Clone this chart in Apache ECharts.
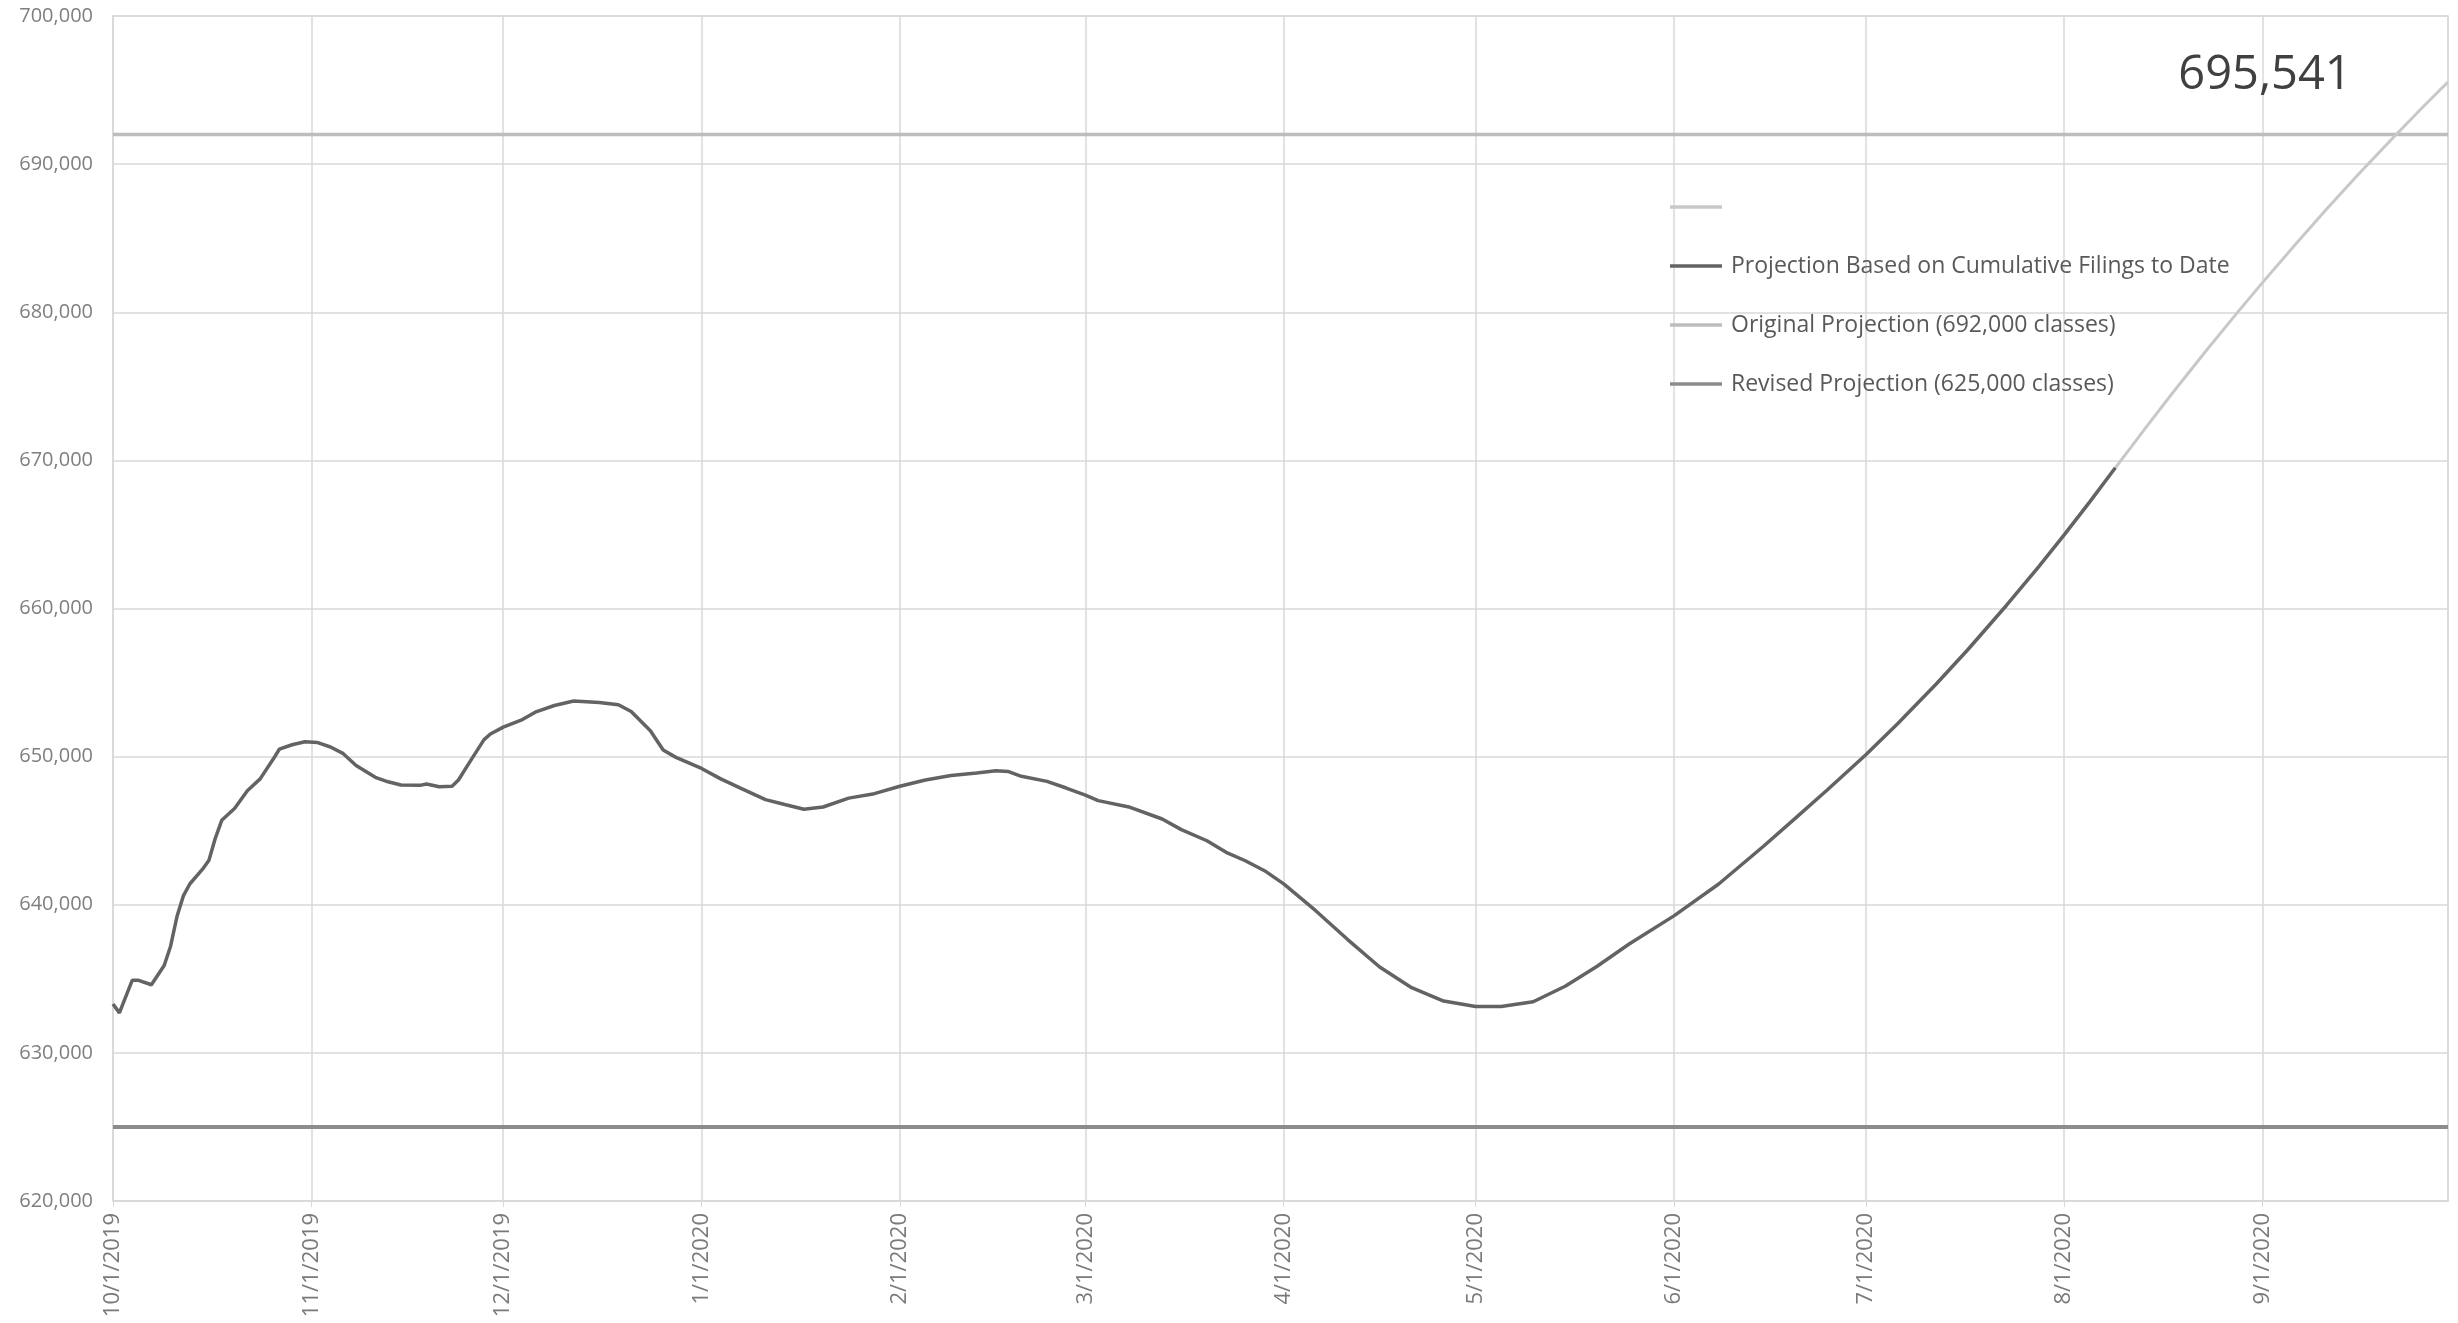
<!DOCTYPE html>
<html>
<head>
<meta charset="utf-8">
<script src="https://cdn.jsdelivr.net/npm/echarts@6/dist/echarts.min.js"></script>
<style>
html,body{margin:0;padding:0;background:#fff;}
#chart{width:2458px;height:1323px;}
</style>
</head>
<body>
<div id="chart"></div>
<script>
// ---- Data ----
const filingDates = [
'2019-10-01','2019-10-02','2019-10-04','2019-10-05','2019-10-07','2019-10-09','2019-10-10','2019-10-11','2019-10-12','2019-10-13',
'2019-10-15','2019-10-16','2019-10-17','2019-10-18','2019-10-20','2019-10-22','2019-10-24','2019-10-26','2019-10-27','2019-10-29',
'2019-10-31','2019-11-02','2019-11-04','2019-11-06','2019-11-08','2019-11-11','2019-11-13','2019-11-15','2019-11-18','2019-11-19',
'2019-11-21','2019-11-23','2019-11-24','2019-11-26','2019-11-28','2019-11-29','2019-12-01','2019-12-04','2019-12-06','2019-12-09',
'2019-12-12','2019-12-16','2019-12-19','2019-12-21','2019-12-24','2019-12-26','2019-12-28','2020-01-01','2020-01-04','2020-01-07',
'2020-01-11','2020-01-14','2020-01-17','2020-01-20','2020-01-24','2020-01-28','2020-02-01','2020-02-05','2020-02-09','2020-02-13',
'2020-02-16','2020-02-18','2020-02-20','2020-02-24','2020-02-27','2020-03-01','2020-03-03','2020-03-08','2020-03-13','2020-03-16',
'2020-03-20','2020-03-23','2020-03-26','2020-03-29','2020-04-01','2020-04-06','2020-04-11','2020-04-16','2020-04-21','2020-04-26',
'2020-05-01','2020-05-05','2020-05-10','2020-05-15','2020-05-20','2020-05-25','2020-06-01','2020-06-08','2020-06-15','2020-06-20',
'2020-06-25','2020-07-01','2020-07-06','2020-07-12','2020-07-17','2020-07-23','2020-07-28','2020-08-01','2020-08-05','2020-08-09'
];
const filingValues = [
633300,632700,634900,634900,634600,635900,637200,639200,640600,641400,
642400,643000,644500,645700,646500,647700,648500,649800,650500,650800,
651000,650950,650650,650200,649400,648600,648300,648080,648060,648150,
647970,648000,648420,649800,651150,651530,651990,652500,653000,653450,
653750,653660,653500,653050,651750,650450,649950,649200,648500,647890,
647100,646770,646450,646600,647200,647500,648000,648420,648720,648900,
649050,648990,648670,648330,647880,647400,647030,646580,645790,645070,
644320,643540,642970,642300,641410,639600,637650,635800,634400,633500,
633130,633130,633450,634500,635850,637350,639250,641400,643950,645850,
647760,650130,652230,654900,657250,660220,662815,664970,667200,669500
];
const projectionDates = ['2020-08-09','2020-08-14','2020-08-18','2020-08-23','2020-08-28','2020-09-01','2020-09-06','2020-09-11','2020-09-16','2020-09-21','2020-09-26','2020-09-30'];
const projectionValues = [669500,672350,674580,677300,679940,682000,684510,686950,689310,691600,693820,695541];

const originalTarget = 692000;
const revisedTarget = 625000;
const xStart = '2019-10-01';
const xEnd = '2020-09-30';
const yMin = 620000, yMax = 700000, yStep = 10000;

const seriesNames = [' ', 'Projection Based on Cumulative Filings to Date', 'Original Projection (692,000 classes)', 'Revised Projection (625,000 classes)'];

// ---- Build ----
const pair = (ds, vs) => ds.map((d, i) => [d, vs[i]]);
const fmtNum = v => v.toLocaleString('en-US');
const FONT = '"Open Sans", "Noto Sans", sans-serif';

const projData = pair(projectionDates, projectionValues);
projData[projData.length - 1] = {
  value: projData[projData.length - 1],
  label: {
    show: true, position: 'inside', align: 'center', verticalAlign: 'middle',
    offset: [-183, -6],
    formatter: p => fmtNum(p.value[1]),
    fontSize: 47, color: '#404040', fontFamily: FONT
  }
};

const chart = echarts.init(document.getElementById('chart'), null, {renderer: 'canvas'});
chart.setOption({
  animation: false,
  backgroundColor: '#ffffff',
  grid: {left: 113, right: 10, top: 16, bottom: 122, show: true, borderColor: '#d9d9d9', borderWidth: 1.5},
  legend: {
    orient: 'vertical', left: 1665, top: 189, itemGap: 33,
    icon: 'rect', itemWidth: 52, itemHeight: 3.5,
    data: seriesNames,
    textStyle: {fontSize: 23, color: '#595959', fontFamily: FONT, lineHeight: 26, padding: [0, 0, 0, 4]}
  },
  xAxis: {
    type: 'time', min: xStart, max: xEnd, splitNumber: 12,
    axisLine: {show: true, lineStyle: {color: '#d9d9d9', width: 1.5}},
    axisTick: {show: true, length: 6, lineStyle: {color: '#d9d9d9'}},
    splitLine: {show: true, lineStyle: {color: '#d9d9d9', width: 1.5}},
    axisLabel: {
      rotate: 90, margin: 12, fontSize: 22, color: '#7a7a7a', fontFamily: FONT,
      showMaxLabel: false,
      formatter: v => { const d = new Date(v); return d.getDate() === 1 ? (d.getMonth() + 1) + '/1/' + d.getFullYear() : ''; }
    }
  },
  yAxis: {
    type: 'value', min: yMin, max: yMax, interval: yStep,
    axisLine: {show: true, lineStyle: {color: '#d9d9d9', width: 1.5}},
    axisTick: {show: false},
    splitLine: {show: true, lineStyle: {color: '#d9d9d9', width: 1.5}},
    axisLabel: {fontSize: 20, color: '#7f7f7f', fontFamily: FONT, margin: 20, formatter: v => fmtNum(v)}
  },
  series: [
    {
      name: seriesNames[0], type: 'line', data: projData,
      symbol: 'circle', symbolSize: 0.1, showSymbol: true,
      itemStyle: {color: '#c8c8c8'}, lineStyle: {color: '#c8c8c8', width: 3}, z: 2
    },
    {
      name: seriesNames[1], type: 'line', data: pair(filingDates, filingValues),
      showSymbol: false, symbol: 'none',
      itemStyle: {color: '#636363'}, lineStyle: {color: '#636363', width: 3.5}, z: 3
    },
    {
      name: seriesNames[2], type: 'line', data: [[xStart, originalTarget], [xEnd, originalTarget]],
      showSymbol: false, symbol: 'none',
      itemStyle: {color: '#bdbdbd'}, lineStyle: {color: '#bdbdbd', width: 3.5}, z: 1
    },
    {
      name: seriesNames[3], type: 'line', data: [[xStart, revisedTarget], [xEnd, revisedTarget]],
      showSymbol: false, symbol: 'none',
      itemStyle: {color: '#8c8c8c'}, lineStyle: {color: '#8c8c8c', width: 4}, z: 1
    }
  ]
});
</script>
</body>
</html>
